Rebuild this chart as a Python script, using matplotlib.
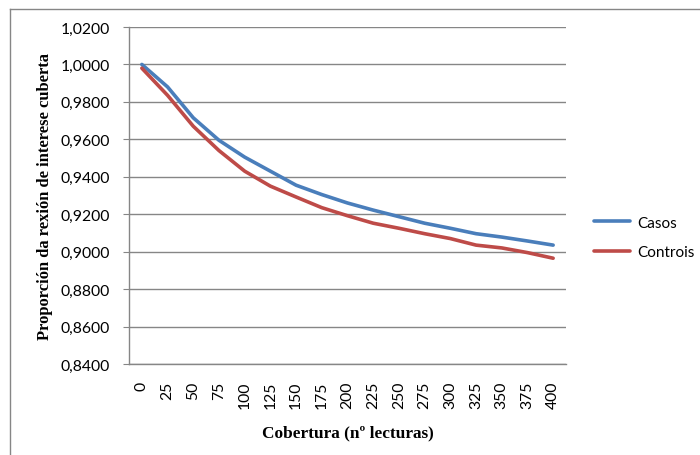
import matplotlib
matplotlib.use("Agg")
import matplotlib.pyplot as plt
from matplotlib.lines import Line2D

categories = ["0", "25", "50", "75", "100", "125", "150", "175", "200",
              "225", "250", "275", "300", "325", "350", "375", "400"]
casos = [1.0000, 0.9880, 0.9715, 0.9595, 0.9505, 0.9430, 0.9355, 0.9305,
         0.9260, 0.9222, 0.9187, 0.9152, 0.9125, 0.9096, 0.9078, 0.9057, 0.9035]
controis = [0.9980, 0.9835, 0.9670, 0.9540, 0.9430, 0.9350, 0.9292, 0.9235,
            0.9192, 0.9152, 0.9125, 0.9096, 0.9070, 0.9035, 0.9020, 0.8995, 0.8965]
yticks = [0.84, 0.86, 0.88, 0.90, 0.92, 0.94, 0.96, 0.98, 1.00, 1.02]

W, H = 700, 456
fig = plt.figure(figsize=(W / 100, H / 100), dpi=100)
ax = fig.add_axes([129 / W, 1 - 365 / H, (566 - 129) / W, (365 - 28) / H])

x = list(range(len(categories)))
ax.plot(x, casos, color="#4A7EBB", lw=2.6, solid_capstyle="round", label="Casos")
ax.plot(x, controis, color="#BE4B48", lw=2.6, solid_capstyle="round", label="Controis")

ax.set_xlim(-0.5, len(categories) - 0.5)
ax.set_ylim(0.84, 1.02)
ax.set_yticks(yticks)
ax.set_yticklabels([f"{v:.4f}".replace(".", ",") for v in yticks],
                   family="Lato", fontsize=11.3)
ax.set_xticks(x)
ax.set_xticklabels(categories, rotation=90, family="Lato", fontsize=11.3)
ax.tick_params(axis="x", length=0, pad=12)
ax.tick_params(axis="y", length=4, color="#868686", pad=10)

ax.yaxis.grid(True, color="#868686", lw=1)
ax.set_axisbelow(True)
for s in ["top", "right"]:
    ax.spines[s].set_visible(False)
for s in ["left", "bottom"]:
    ax.spines[s].set_color("#868686")
    ax.spines[s].set_linewidth(1)

ax.set_ylabel("Proporción da rexión de interese cuberta", family="Liberation Serif",
              fontweight="bold", fontsize=11.9, labelpad=5)
ax.set_xlabel("Cobertura (nº lecturas)", family="Liberation Serif",
              fontweight="bold", fontsize=12.4, labelpad=12)

leg = fig.legend(loc="upper left", bbox_to_anchor=(580 / W, 1 - 203 / H),
                 frameon=False, prop={"family": "Lato", "size": 11},
                 handlelength=2.4, labelspacing=1.0, handletextpad=0.45)

# chart frame
fig.add_artist(Line2D([10 / W, 10 / W], [0, 1 - 9.5 / H], transform=fig.transFigure,
                      color="#868686", lw=1))
fig.add_artist(Line2D([10 / W, 1], [1 - 9.5 / H, 1 - 9.5 / H], transform=fig.transFigure,
                      color="#868686", lw=1))

fig.savefig("out.png", dpi=100)
